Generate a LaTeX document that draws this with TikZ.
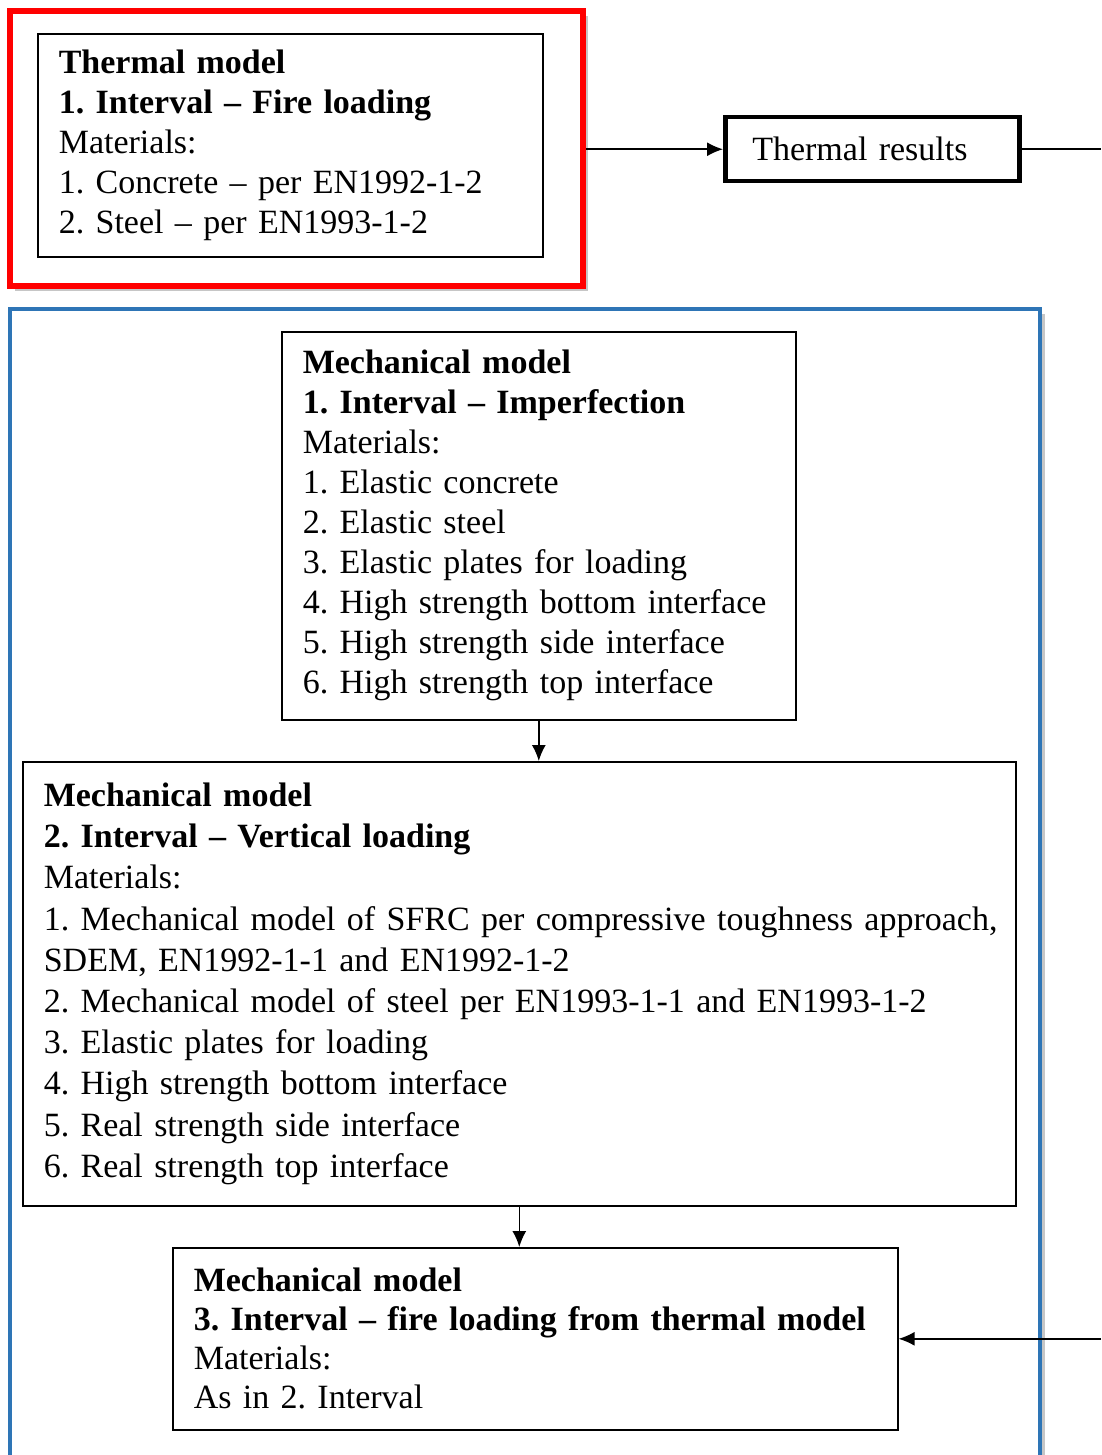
\documentclass[tikz,border=0pt]{standalone}
\usepackage{fontspec}
\setmainfont{Liberation Serif}
\usetikzlibrary{arrows,arrows.meta,shapes,shadows,positioning}
\definecolor{frameblue}{RGB}{46,117,182}
\tikzstyle{frame}=[draw,fill=white,inner sep=0pt,anchor=north west,drop shadow={opacity=0.45,shadow xshift=5pt,shadow yshift=-5pt}]
\tikzstyle{model}=[draw,line width=1.6pt,anchor=north west,align=left,inner xsep=21pt,inner ysep=0pt,font=\fontsize{34}{40}\selectfont\frenchspacing]
\tikzstyle{result}=[model,line width=4.5pt,inner xsep=27pt]
\tikzstyle{flow}=[draw,line width=1.5pt,-{Latex[length=16pt,width=14pt]}]

\begin{document}
\begin{tikzpicture}[x=1pt,y=-1pt]
    \useasboundingbox (0,0) rectangle (1101,1455);
    % The two frames first
    \node[frame,draw=red,line width=6pt,minimum width=573pt,minimum height=275pt] (fireframe) at (7,8) {};
    \node[frame,draw=frameblue,line width=4pt,minimum width=1030pt,minimum height=1149pt] (mechframe) at (8,307) {};

    % Thermal part
    \node[model,text width=463pt,minimum height=223pt] (thermal) at (37,33)
        {\textbf{Thermal model}\\ \textbf{1. Interval -- Fire loading}\\ Materials:\\
         1. Concrete -- per EN1992-1-2\\ 2. Steel -- per EN1993-1-2};
    \node[result,text width=240pt,minimum height=64pt] (results) at (723,115) {Thermal results};

    % Mechanical part
    \node[model,text width=472pt,minimum height=388pt] (mech1) at (281,331)
        {\textbf{Mechanical model}\\ \textbf{1. Interval -- Imperfection}\\ Materials:\\
         1. Elastic concrete\\ 2. Elastic steel\\ 3. Elastic plates for loading\\
         4. High strength bottom interface\\ 5. High strength side interface\\
         6. High strength top interface};
    \node[model,text width=951pt,minimum height=444pt,font=\fontsize{34}{41.2}\selectfont\frenchspacing] (mech2) at (22,761)
        {\textbf{Mechanical model}\\ \textbf{2. Interval -- Vertical loading}\\ Materials:\\
         \mbox{1. Mechanical model of SFRC per compressive toughness approach,}\\
         SDEM, EN1992-1-1 and EN1992-1-2\\
         2. Mechanical model of steel per EN1993-1-1 and EN1993-1-2\\
         3. Elastic plates for loading\\ 4. High strength bottom interface\\
         5. Real strength side interface\\ 6. Real strength top interface};
    \node[model,text width=683pt,minimum height=182pt,font=\fontsize{34}{39}\selectfont\frenchspacing] (mech3) at (172,1247)
        {\textbf{Mechanical model}\\ \textbf{3. Interval -- fire loading from thermal model}\\
         Materials:\\ As in 2. Interval};

    % Loose ends at the right border
    \coordinate (redge) at (1101,0);

    % Connect them
    \path[flow] (fireframe.east |- results.west) -- (results.west);
    \path[draw,line width=1.5pt] (results.east) -- (results.east -| redge);
    \foreach \source/\dest in {mech1/mech2, mech2/mech3}
        \path[flow] (\source.south) -- (\source.south |- \dest.north);
    \path[flow] (mech3.east -| redge) -- (mech3.east);
\end{tikzpicture}
\end{document}
